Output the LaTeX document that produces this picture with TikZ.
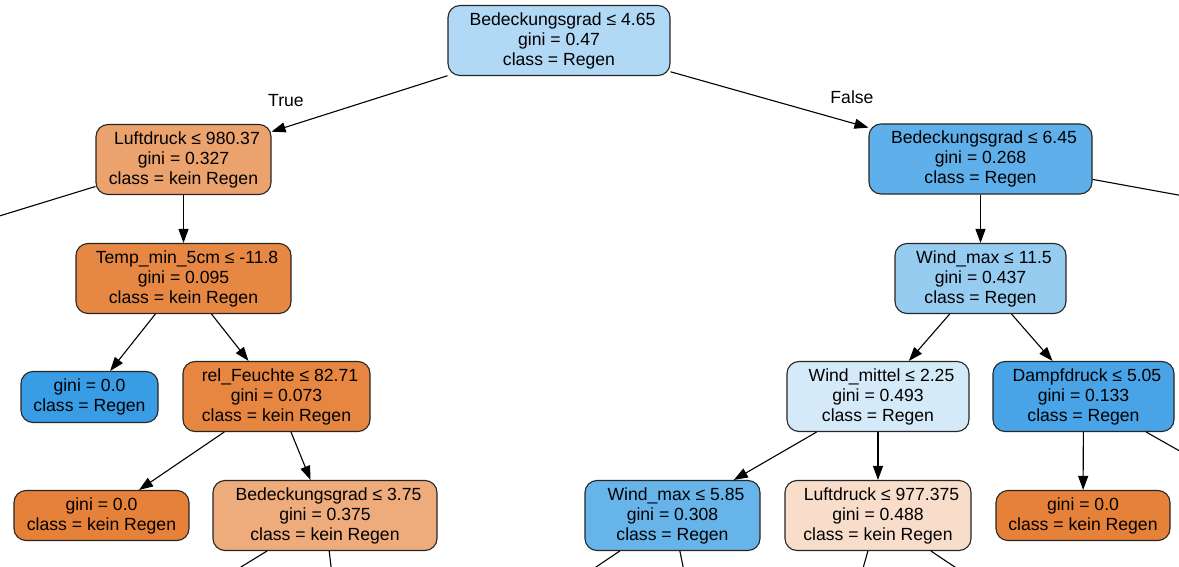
\documentclass[tikz,border=0pt]{standalone}
\usepackage{fontspec}
\setmainfont{Liberation Sans}
\usetikzlibrary{arrows.meta}
\definecolor{cA}{HTML}{B1D8F5}
\definecolor{cB}{HTML}{ECA26C}
\definecolor{cC}{HTML}{5FB0EA}
\definecolor{cD}{HTML}{E68844}
\definecolor{cE}{HTML}{97CCF1}
\definecolor{cF}{HTML}{399DE5}
\definecolor{cG}{HTML}{E68641}
\definecolor{cH}{HTML}{D5EAF9}
\definecolor{cI}{HTML}{48A4E7}
\definecolor{cJ}{HTML}{E58139}
\definecolor{cK}{HTML}{EEAB7B}
\definecolor{cL}{HTML}{67B4EB}
\definecolor{cM}{HTML}{F8DDCA}
\newcommand{\lsh}{\hspace*{7pt}}
\tikzset{
  treenode/.style={draw=black!85, line width=1.1pt, rounded corners=12pt, align=center,
    inner sep=0pt, font=\fontsize{17.6}{20}\selectfont, text=black},
  full/.style={minimum height=70pt},
  leaf/.style={minimum height=50pt},
  edge/.style={line width=1.1pt, -{Triangle[length=14pt,width=10pt]}},
  cut/.style={line width=1.1pt},
  lbl/.style={font=\fontsize{17.6}{20}\selectfont, inner sep=0pt}
}
\begin{document}
\begin{tikzpicture}[x=1pt,y=-1pt]
\path[use as bounding box, clip] (0,0) rectangle (1179,567);
\fill[white] (0,0) rectangle (1179,567);

\node[treenode, full, fill=cA, minimum width=222pt] (root) at (559,40.5) {\lsh Bedeckungsgrad ≤ 4.65\\gini = 0.47\\class = Regen};
\node[treenode, full, fill=cB, minimum width=175pt] (lfa) at (183.5,159.5) {\lsh Luftdruck ≤ 980.37\\gini = 0.327\\class = kein Regen};
\node[treenode, full, fill=cC, minimum width=223pt] (bdb) at (980.5,159) {\lsh Bedeckungsgrad ≤ 6.45\\gini = 0.268\\class = Regen};
\node[treenode, full, fill=cD, minimum width=215pt] (tm) at (183.5,278.5) {\lsh Temp\_min\_5cm ≤ -11.8\\gini = 0.095\\class = kein Regen};
\node[treenode, full, fill=cE, minimum width=171pt] (wma) at (980.5,278.5) {\lsh Wind\_max ≤ 11.5\\gini = 0.437\\class = Regen};
\node[treenode, fill=cF, minimum width=137pt, minimum height=51pt] (ga) at (89.5,397) {gini = 0.0\\class = Regen};
\node[treenode, full, fill=cG, minimum width=187pt] (rf) at (276.5,396.5) {\lsh rel\_Feuchte ≤ 82.71\\gini = 0.073\\class = kein Regen};
\node[treenode, full, fill=cH, minimum width=182pt] (wmi) at (878,396.5) {\lsh Wind\_mittel ≤ 2.25\\gini = 0.493\\class = Regen};
\node[treenode, full, fill=cI, minimum width=181pt] (dd) at (1083.5,396.5) {\lsh Dampfdruck ≤ 5.05\\gini = 0.133\\class = Regen};
\node[treenode, leaf, fill=cJ, minimum width=175pt] (gb) at (101.5,515.5) {gini = 0.0\\class = kein Regen};
\node[treenode, full, fill=cK, minimum width=224pt] (bdc) at (325,515.5) {\lsh Bedeckungsgrad ≤ 3.75\\gini = 0.375\\class = kein Regen};
\node[treenode, full, fill=cL, minimum width=175pt] (wmb) at (672.5,515.5) {\lsh Wind\_max ≤ 5.85\\gini = 0.308\\class = Regen};
\node[treenode, full, fill=cM, minimum width=186pt] (lfb) at (878,515.5) {\lsh Luftdruck ≤ 977.375\\gini = 0.488\\class = kein Regen};
\node[treenode, leaf, fill=cJ, minimum width=174pt] (gc) at (1083,515.5) {gini = 0.0\\class = kein Regen};

\node[lbl] (true) at (286,100.5) {True};
\node[lbl] (false) at (852,97.5) {False};

\coordinate (oa) at (-100,246.5);
\coordinate (ob) at (1300,217.2);
\coordinate (oc) at (1250,490.8);
\coordinate (od) at (187,600);
\coordinate (oe) at (335,600);
\coordinate (of) at (547,600);
\coordinate (og) at (690,600);
\coordinate (oh) at (854,600);
\coordinate (oi) at (1004,600);

\draw[edge] (root) -- (lfa);
\draw[edge] (root) -- (bdb);
\draw[edge] (lfa) -- (tm);
\draw[edge] (bdb) -- (wma);
\draw[edge] (tm) -- (ga);
\draw[edge] (tm) -- (rf);
\draw[edge] (wma) -- (wmi);
\draw[edge] (wma) -- (dd);
\draw[edge] (rf) -- (gb);
\draw[edge] (rf) -- (bdc);
\draw[edge] (wmi) -- (wmb);
\draw[edge] (wmi) -- (lfb);
\draw[edge] (dd) -- (gc);

\draw[cut] (lfa) -- (oa);
\draw[cut] (bdb) -- (ob);
\draw[cut] (dd) -- (oc);
\draw[cut] (bdc) -- (od);
\draw[cut] (bdc) -- (oe);
\draw[cut] (wmb) -- (of);
\draw[cut] (wmb) -- (og);
\draw[cut] (lfb) -- (oh);
\draw[cut] (lfb) -- (oi);
\end{tikzpicture}
\end{document}
